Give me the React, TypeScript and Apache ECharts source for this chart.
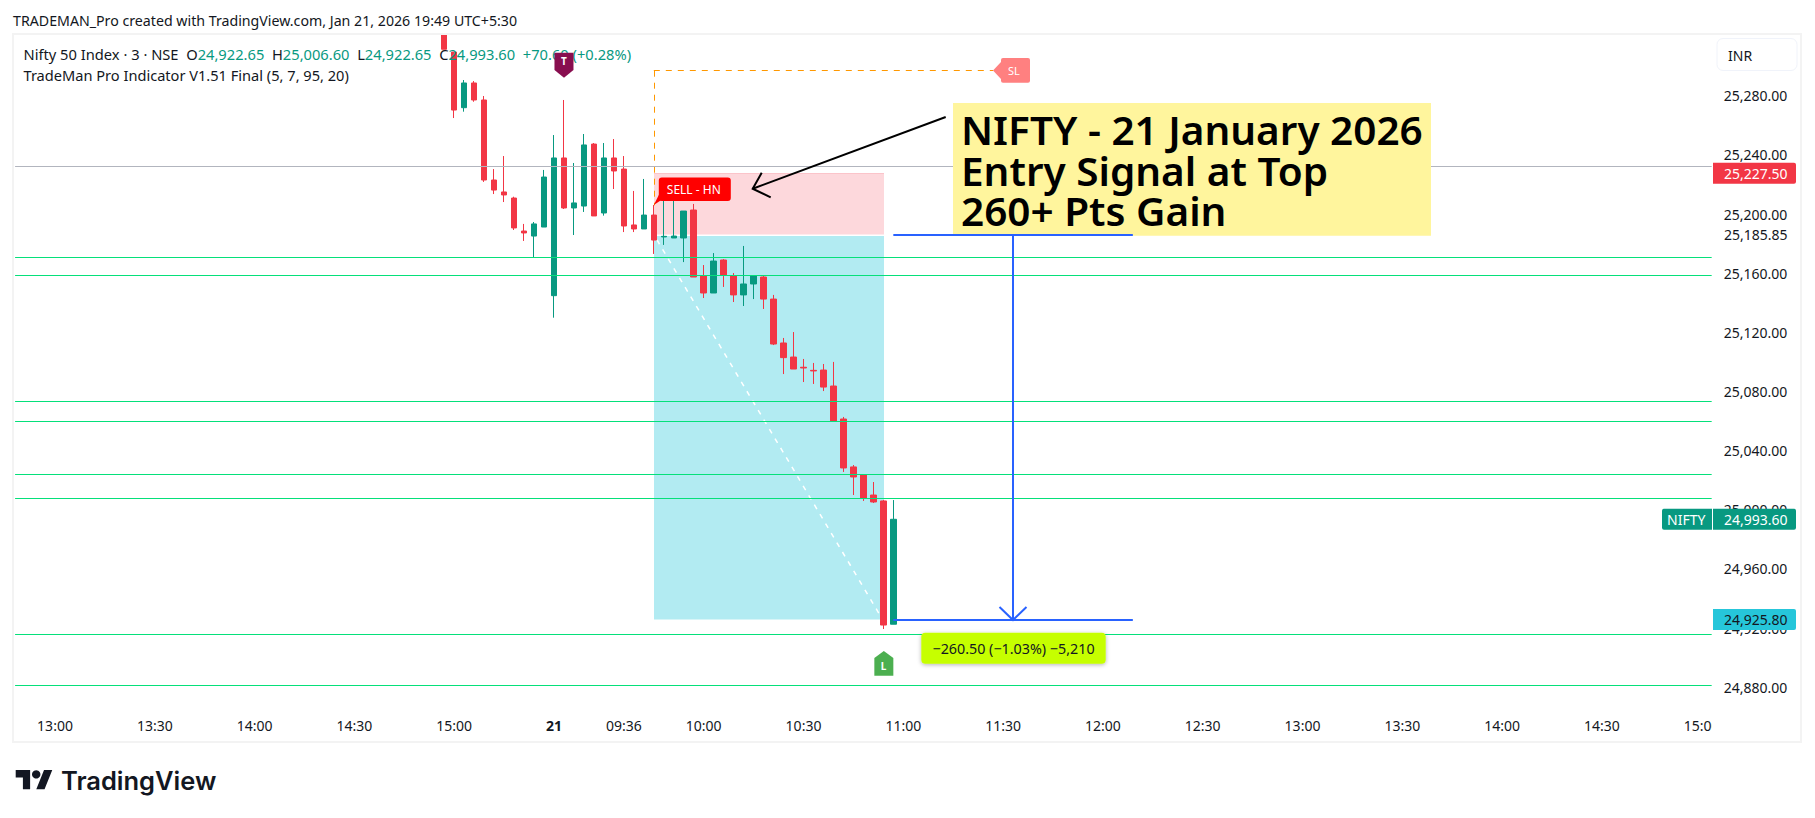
import React, { useEffect, useRef } from "react";
import * as echarts from "echarts";

const FONT = "'Noto Sans', sans-serif";
const UP = "#089981";
const DOWN = "#f23645";
const INK = "#131722";

// Candle times, first bar 14:57 on the 20th
const candleTimes = [
  "20 14:57","20 15:00","20 15:03","20 15:06","20 15:09","20 15:12","20 15:15","20 15:18","20 15:21","20 15:24","20 15:27",
  "21 09:15","21 09:18","21 09:21","21 09:24","21 09:27","21 09:30","21 09:33","21 09:36","21 09:39","21 09:42","21 09:45",
  "21 09:48","21 09:51","21 09:54","21 09:57","21 10:00","21 10:03","21 10:06","21 10:09","21 10:12","21 10:15","21 10:18",
  "21 10:21","21 10:24","21 10:27","21 10:30","21 10:33","21 10:36","21 10:39","21 10:42","21 10:45","21 10:48","21 10:51",
  "21 10:54","21 10:57",
];
const opens = [
  25330,25309.5,25271.9,25288.6,25277.1,25223,25214.9,25210.8,25188.5,25185.1,25191.2,
  25144.8,25237.9,25204.1,25205.4,25247.3,25200.7,25237.9,25230.4,25192.6,25189.9,25199.3,
  25184.5,25183.8,25183.8,25202.7,25158.1,25146.6,25168.9,25158.1,25145.3,25152.7,25157.4,
  25142.5,25112.8,25103.3,25096.4,25094.3,25094.5,25083.7,25061.4,25029,25023.6,25010,
  25006,24922.65,
];
const closes = [
  25311.4,25270.3,25288.6,25277.1,25223,25216.2,25212.9,25190.6,25187.2,25193.3,25225,
  25237.9,25204.1,25207.5,25246.7,25198.7,25237.9,25229.1,25191.9,25189.9,25199.3,25182.4,
  25184.9,25185.1,25202,25157.4,25146.6,25168.2,25158.8,25145.3,25152.7,25158.1,25142.5,
  25112.1,25102.9,25095.2,25095.9,25093.9,25083,25060.1,25028.3,25022.2,25008,25005.3,
  24922.1,24993.6,
];
const lows = [
  25311.4,25264.9,25269.2,25275.9,25221.7,25213.5,25208.1,25189.2,25181.8,25170.7,25191.2,
  25129.9,25203.4,25185.8,25201.4,25198.7,25198.9,25216.9,25187.8,25187.8,25189.9,25173,
  25179.1,25183.8,25167.5,25157.4,25143.2,25146.6,25150.7,25140.5,25137.8,25142.5,25135.8,
  25111.4,25091.8,25095.2,25086.4,25085.1,25080.3,25060.1,25025.6,25010,25006,25004.6,
  24919.4,24922.65,
];
const highs = [
  25332,25309.5,25290.6,25289.9,25279.8,25230.4,25239.2,25211.7,25193.3,25194.6,25229.8,
  25253.4,25277.1,25234.5,25254.1,25248,25248,25250.7,25239.2,25215.6,25223.7,25206.1,
  25212.9,25212.9,25202,25206.8,25165.5,25173.6,25169.5,25160.1,25178.4,25158.1,25158.1,
  25145.3,25116.2,25120.2,25102,25099.3,25098.6,25100,25062.8,25030.3,25023.6,25018.8,
  25006.7,25006.6,
];

const levelLines = [25170.7, 25158.6, 25073.4, 25059.9, 25024, 25007.8, 24915.9, 24881.4];
const prevCloseLine = 25231.8;
const stopValue = 25296.9;
const zoneTop = 25227.5;
const entryValue = 25185.85;
const targetValue = 24925.8;
const lastPrice = 24993.6;

const axisValues = [25280,25240,25200,25160,25120,25080,25040,25000,24960,24920,24880];
const tickLabels: Record<string, string> = {
  "20 13:00":"13:00","20 13:30":"13:30","20 14:00":"14:00","20 14:30":"14:30","20 15:00":"15:00",
  "21 09:15":"21","21 09:36":"09:36","21 10:00":"10:00","21 10:30":"10:30","21 11:00":"11:00",
  "21 11:30":"11:30","21 12:00":"12:00","21 12:30":"12:30","21 13:00":"13:00","21 13:30":"13:30",
  "21 14:00":"14:00","21 14:30":"14:30","21 15:00":"15:00",
};

function sessionClock(day: string, from: number, to: number) {
  const out: string[] = [];
  for (let m = from; m <= to; m += 3) {
    const h = String(Math.floor(m / 60)).padStart(2, "0");
    const mm = String(m % 60).padStart(2, "0");
    out.push(`${day} ${h}:${mm}`);
  }
  return out;
}
const categories = [...sessionClock("20", 12 * 60 + 48, 15 * 60 + 27), ...sessionClock("21", 9 * 60 + 15, 15 * 60 + 3)];
const ci = (t: string) => categories.indexOf(t);

const candleData = categories.map((c) => {
  const i = candleTimes.indexOf(c);
  return i < 0 ? ["-", "-", "-", "-"] : [opens[i], closes[i], lows[i], highs[i]];
});

const LOGO_D = "M14 22H7V11H0V4h14v18zM28 22h-8l7.5-18h8L28 22z";
echarts.graphic.registerShape("tvLogo", echarts.graphic.extendPath(LOGO_D as any, {} as any) as any);

const snap1 = (y: number) => Math.floor(y) + 0.5;

function buildOption() {
  const lineEl = (a: number[], b: number[], stroke: string, lineWidth: number, extra: any = {}) => ({
    type: "line",
    shape: { x1: a[0], y1: a[1], x2: b[0], y2: b[1] },
    style: { stroke, lineWidth, fill: null, ...extra },
  });
  const hLine = (x1: number, x2: number, y: number, stroke: string, extra: any = {}) =>
    lineEl([x1, snap1(y)], [x2, snap1(y)], stroke, 1, extra);
  const textEl = (text: string, x: number, y: number, fill: string, fontSize: number, extra: any = {}) => ({
    type: "text",
    style: { text, x, y, fill, fontSize, fontFamily: FONT, align: "left", verticalAlign: "middle", ...extra },
  });

  const zones = (_p: any, api: any) => {
    const L = api.coord([ci("21 09:45"), zoneTop]);
    const E = api.coord([ci("21 10:54"), entryValue]);
    const T = api.coord([ci("21 10:54"), targetValue]);
    const S = api.coord([ci("21 09:45"), stopValue]);
    const left = Math.round(L[0]);
    const right = Math.round(E[0]) + 1;
    return {
      type: "group",
      children: [
        { type: "rect", shape: { x: left, y: L[1], width: right - left, height: E[1] - L[1] - 0.5 }, style: { fill: "#fdd8dc" } },
        { type: "rect", shape: { x: left, y: E[1] + 1, width: right - left, height: T[1] - E[1] - 1 }, style: { fill: "#b2ebf2" } },
        hLine(left, right, L[1], "#fbc4ca"),
        lineEl([left + 3, E[1] + 5], [right - 2, T[1] - 1], "#ffffff", 1.5, { lineDash: [5, 6] }),
        lineEl([left + 0.5, S[1]], [left + 0.5, L[1] + 32], "#ff9800", 1, { lineDash: [6, 6] }),
      ],
    };
  };

  const overlay = (_p: any, api: any) => {
    const T1 = api.coord([ci("21 10:57"), targetValue]);
    const T2 = api.coord([ci("21 12:09"), targetValue]);
    const MT = api.coord([ci("21 11:33"), entryValue]);
    const MB = api.coord([ci("21 11:33"), targetValue]);
    const S0 = api.coord([ci("21 09:45"), stopValue]);
    const S1 = api.coord([ci("21 11:27"), stopValue]);
    const prevL = api.coord([0, prevCloseLine]);
    const prevR = api.coord([170, prevCloseLine]);
    const children: any[] = [hLine(prevL[0], prevR[0], prevL[1], "#b2b5be")];
    levelLines.forEach((v) => {
      const a = api.coord([0, v]);
      const b = api.coord([170, v]);
      children.push(hLine(a[0], b[0], a[1], "#05e07a"));
    });
    const mx = Math.round(MT[0]);
    const ty = Math.round(T1[1]);
    children.push(
      hLine(S0[0], S1[0], S0[1], "#ff9800", { lineDash: [6, 6] }),
      lineEl([mx, Math.round(MT[1])], [mx, ty], "#2962ff", 2),
      lineEl([T1[0], ty], [T2[0], ty], "#2962ff", 2),
      { type: "polyline", shape: { points: [[mx - 13.5, ty - 13], [mx, ty], [mx + 13.5, ty - 13]] }, style: { stroke: "#2962ff", lineWidth: 2, fill: null } },
    );
    return { type: "group", children };
  };

  const boxTopLine = (_p: any, api: any) => {
    const E1 = api.coord([ci("21 10:57"), entryValue]);
    const E2 = api.coord([ci("21 12:09"), entryValue]);
    const y = Math.round(E1[1]);
    return { type: "group", children: [lineEl([E1[0], y], [E2[0], y], "#2962ff", 2)] };
  };

  const tags = (_p: any, api: any) => {
    const sell = api.coord([ci("21 09:45"), entryValue]);
    const t = api.coord([ci("21 09:18"), 25300]);
    const lx = api.coord([ci("21 10:54"), 24900]);
    const red = api.coord([0, zoneTop]);
    const grn = api.coord([0, lastPrice]);
    const cyn = api.coord([0, targetValue]);
    const ent = api.coord([0, entryValue]);
    const tagX = 1713;
    const tagW = 83;
    const price = (y: number, bg: string, fg: string, label: string) => [
      { type: "rect", shape: { x: tagX, y: y - 10.5, width: tagW, height: 21, r: [0, 2, 2, 0] }, style: { fill: bg } },
      textEl(label, tagX + 11, y, fg, 14),
    ];
    const tx = t[0];
    const lxx = lx[0] + 0.5;
    return {
      type: "group",
      children: [
        { type: "polygon", shape: { points: [[sell[0], sell[1] - 30], [sell[0] + 6, sell[1] - 42], [sell[0] + 9, sell[1] - 42], [sell[0] + 9, sell[1] - 36]] }, style: { fill: "#ff0000" } },
        { type: "rect", shape: { x: sell[0] + 5, y: sell[1] - 57.5, width: 72, height: 23.5, r: 3 }, style: { fill: "#ff0000" } },
        textEl("SELL - HN", sell[0] + 13, sell[1] - 45.5, "#ffffff", 12),

        { type: "polygon", shape: { points: [[tx - 9.5, 52.7], [tx + 9.5, 52.7], [tx + 9.5, 70], [tx, 77.7], [tx - 9.5, 70]] }, style: { fill: "#880e4f" } },
        textEl("T", tx - 3, 61, "#ffffff", 10, { fontWeight: "bold" }),

        { type: "polygon", shape: { points: [[lxx, 651], [lxx + 9.5, 658], [lxx + 9.5, 675.7], [lxx - 9.5, 675.7], [lxx - 9.5, 658]] }, style: { fill: "#4caf50" } },
        textEl("L", lxx - 3, 666, "#ffffff", 10, { fontWeight: "bold" }),

        { type: "polygon", shape: { points: [[993, 70.5], [1001, 62], [1001, 79]] }, style: { fill: "#ff8080" } },
        { type: "rect", shape: { x: 1001, y: 58, width: 29, height: 24.7, r: 2 }, style: { fill: "#ff8080" } },
        textEl("SL", 1008, 70.5, "#ffffff", 11),

        { type: "rect", shape: { x: 921.3, y: 632.7, width: 184.4, height: 31, r: 4 }, style: { fill: "#c6ff00", shadowBlur: 4, shadowColor: "rgba(0,0,0,0.3)", shadowOffsetY: 1 } },
        textEl("\u2212260.50 (\u22121.03%) \u22125,210", 932.5, 648, "#131722", 14.3),

        textEl("25,185.85", 1724, ent[1], INK, 14),
        ...price(red[1], DOWN, "#ffffff", "25,227.50"),
        { type: "rect", shape: { x: 1662, y: grn[1] - 10.5, width: 50, height: 21, r: [2, 0, 0, 2] }, style: { fill: UP } },
        textEl("NIFTY", 1667, grn[1], "#ffffff", 14),
        ...price(grn[1], UP, "#ffffff", "24,993.60"),
        ...price(cyn[1], "#26c6da", INK, "24,925.80"),
      ],
    };
  };

  const singlePoint = [[0, 25000]];
  const customBase = { type: "custom", coordinateSystem: "cartesian2d", data: singlePoint, silent: true, clip: false, encode: { x: 0, y: 1 } };
  const g = (z: number, extra: any) => ({ z, silent: true, ...extra });

  const legendRich = {
    l: { fill: INK, fontSize: 14.7, fontFamily: FONT },
    v: { fill: UP, fontSize: 14.7, fontFamily: FONT },
  };
  const boxFont = { fill: "#000000", fontSize: 40.5, fontWeight: 600, fontFamily: FONT, verticalAlign: "middle" };

  return {
    animation: false,
    backgroundColor: "#ffffff",
    grid: { left: 10.09, top: 6.96, width: 1706.58, height: 709.92, containLabel: false },
    xAxis: {
      type: "category",
      data: categories,
      boundaryGap: true,
      axisLine: { show: false },
      axisTick: { show: false },
      splitLine: { show: false },
      axisLabel: {
        show: true,
        interval: (_i: number, v: string) => v in tickLabels,
        hideOverlap: false,
        margin: 2,
        color: INK,
        fontSize: 14,
        fontFamily: FONT,
        formatter: (v: string) => (v === "21 09:15" ? "{b|21}" : tickLabels[v] || ""),
        rich: { b: { fontWeight: "bold", fontSize: 14, fontFamily: FONT, color: INK } },
      },
    },
    yAxis: {
      type: "value",
      position: "right",
      min: 24860,
      max: 25340,
      interval: 20,
      scale: true,
      axisLine: { show: false },
      axisTick: { show: false },
      splitLine: { show: false },
      axisLabel: {
        margin: 7,
        color: INK,
        fontSize: 14,
        fontFamily: FONT,
        formatter: (v: number) => (axisValues.includes(v) ? v.toLocaleString("en-US", { minimumFractionDigits: 2, maximumFractionDigits: 2 }) : ""),
      },
    },
    series: [
      { ...customBase, z: 1, renderItem: zones },
      {
        type: "candlestick",
        z: 2,
        barWidth: 6,
        clip: true,
        silent: true,
        data: candleData,
        itemStyle: { color: UP, color0: DOWN, borderColor: UP, borderColor0: DOWN, borderWidth: 1 },
      },
      { ...customBase, z: 3, renderItem: overlay },
      { ...customBase, z: 16, renderItem: boxTopLine },
      { ...customBase, z: 18, renderItem: tags },
    ],
    graphic: { elements: [
      g(6, { type: "rect", shape: { x: 1712, y: 34, width: 11, height: 708 }, style: { fill: "#ffffff" } }),
      g(6, { type: "rect", shape: { x: 0, y: 0, width: 1815, height: 33 }, style: { fill: "#ffffff" } }),
      g(6, { type: "rect", shape: { x: 0, y: 0, width: 12, height: 818 }, style: { fill: "#ffffff" } }),
      g(7, { type: "rect", shape: { x: 13, y: 34, width: 1788, height: 708 }, style: { fill: "none", stroke: "#f3f3f3", lineWidth: 2 } }),
      g(7, { type: "text", style: { text: "TRADEMAN_Pro created with TradingView.com, Jan 21, 2026 19:49 UTC+5:30", x: 13, y: 20, fill: INK, fontSize: 14.2, fontFamily: FONT, verticalAlign: "middle" } }),
      g(7, { type: "text", style: {
        text: "{l|Nifty 50 Index \u00b7 3 \u00b7 NSE  O}{v|24,922.65}{l|  H}{v|25,006.60}{l|  L}{v|24,922.65}{l|  C}{v|24,993.60}{v|  +70.60 (+0.28%)}",
        x: 23.5, y: 53.5, verticalAlign: "middle", rich: legendRich, fontSize: 14.7, fontFamily: FONT } }),
      g(7, { type: "text", style: { text: "TradeMan Pro Indicator V1.51 Final (5, 7, 95, 20)", x: 23.5, y: 75, fill: INK, fontSize: 14.6, fontFamily: FONT, verticalAlign: "middle" } }),
      g(7, { type: "rect", shape: { x: 1717, y: 38.5, width: 80, height: 32, r: 6 }, style: { fill: "#ffffff", stroke: "#f0f3fa", lineWidth: 1 } }),
      g(8, { type: "text", style: { text: "INR", x: 1728, y: 55, fill: INK, fontSize: 14, fontFamily: FONT, verticalAlign: "middle" } }),
      g(9, { type: "line", shape: { x1: 945.7, y1: 117, x2: 752.7, y2: 188.7 }, style: { stroke: "#000000", lineWidth: 2 } }),
      g(9, { type: "polyline", shape: { points: [[761.7, 172.7], [752.7, 188.7], [770.7, 197.3]] }, style: { stroke: "#000000", lineWidth: 2, fill: null } }),
      g(15, { type: "rect", shape: { x: 953, y: 103, width: 478, height: 132.7 }, style: { fill: "#fff59d" } }),
      g(15, { type: "text", style: { text: "NIFTY - 21 January 2026", x: 961, y: 129, ...boxFont } }),
      g(15, { type: "text", style: { text: "Entry Signal at Top", x: 961, y: 170, ...boxFont } }),
      g(15, { type: "text", style: { text: "260+ Pts Gain", x: 961, y: 210, ...boxFont } }),
      g(9, { type: "tvLogo", x: 15.7, y: 765.8, scaleX: 1.03, scaleY: 1.07, style: { fill: "#131722" } }),
      g(9, { type: "circle", shape: { cx: 36.2, cy: 774.4, r: 4.2 }, style: { fill: "#131722" } }),
      g(9, { type: "text", style: { text: "TradingView", x: 61, y: 780, fill: "#131722", fontSize: 25.5, fontWeight: 600, fontFamily: "Inter, sans-serif", verticalAlign: "middle" } }),
    ] },
  };
}

export default function App() {
  const ref = useRef<HTMLDivElement>(null);
  useEffect(() => {
    const chart = echarts.init(ref.current!, undefined, { renderer: "svg" });
    chart.setOption(buildOption() as any);
    return () => chart.dispose();
  }, []);
  return <div ref={ref} style={{ position: "fixed", left: 0, top: 0, width: 1815, height: 818, background: "#fff" }} />;
}
